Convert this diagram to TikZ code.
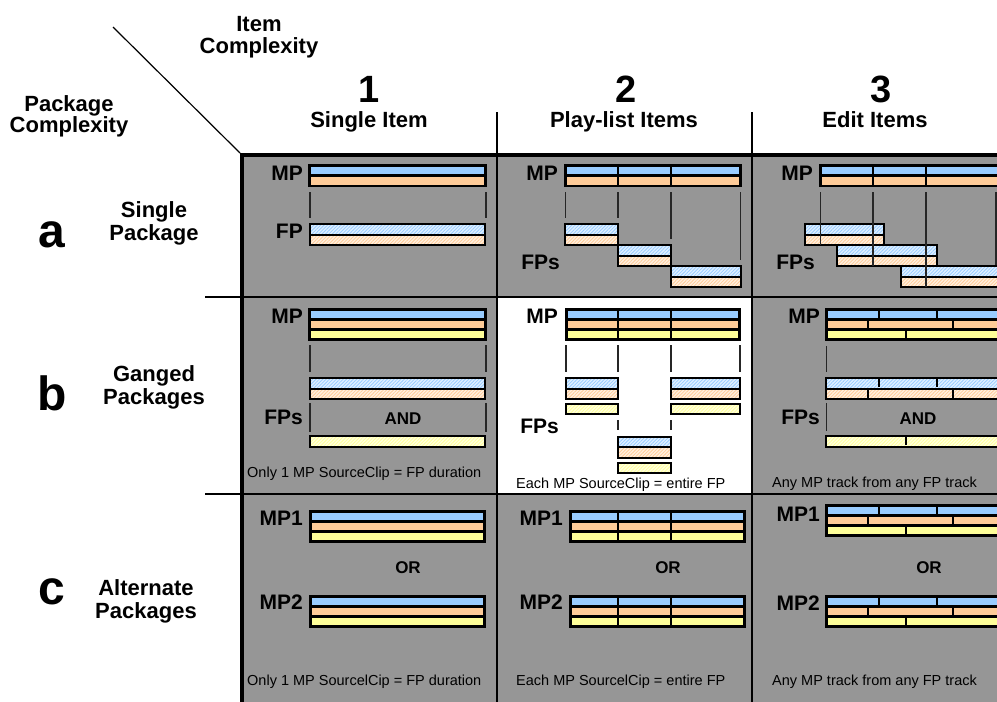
\documentclass[tikz,border=0pt]{standalone}
\usepackage{fontspec}
\setmainfont{Liberation Sans}
\usetikzlibrary{patterns.meta}
\definecolor{mpblue}{RGB}{153,204,255}
\definecolor{mporange}{RGB}{255,204,153}
\definecolor{mpyellow}{RGB}{255,255,153}
\definecolor{cellgray}{RGB}{150,150,150}
\tikzset{
  mpline/.style={line width=2.6pt, draw=black, line join=miter},
  fpline/.style={line width=2pt, draw=black},
  segline/.style={line width=1.4pt, draw=black},
  conn/.style={line width=1.3pt, draw=black!85},
  gridline/.style={line width=1.5pt, draw=black},
  border/.style={line width=4pt, draw=black},
  hdr/.style={font=\fontsize{22}{24}\selectfont\bfseries, inner sep=0pt, anchor=base},
  bigdigit/.style={font=\fontsize{38}{40}\selectfont\bfseries, inner sep=0pt, anchor=base},
  rowletter/.style={font=\fontsize{48}{50}\selectfont\bfseries, inner sep=0pt, anchor=base},
  lab/.style={font=\fontsize{21}{22}\selectfont\bfseries, inner sep=0pt, anchor=base east},
  andor/.style={font=\fontsize{17}{18}\selectfont\bfseries, inner sep=0pt, anchor=base},
  note/.style={font=\fontsize{14.5}{16}\selectfont, inner sep=0pt, anchor=base west},
}
\newcommand{\mptracks}[5]{%
  \foreach \cc [count=\ii from 0] in {#5}{%
    \filldraw[mpline, fill=\cc] (#1,{#3+\ii*#4}) rectangle (#2,{#3+(\ii+1)*#4});}}
\newcommand{\fptracks}[5]{%
  \foreach \cc [count=\ii from 0] in {#5}{%
    \fill[\cc!30] (#1,{#3+\ii*#4}) rectangle (#2,{#3+(\ii+1)*#4});
    \fill[pattern={Lines[angle=45,distance=2.4pt,line width=0.8pt]}, pattern color=\cc] (#1,{#3+\ii*#4}) rectangle (#2,{#3+(\ii+1)*#4});
    \draw[fpline] (#1,{#3+\ii*#4}) rectangle (#2,{#3+(\ii+1)*#4});}}
\newcommand{\segs}[3]{%
  \foreach \tt/\xx in {#3}{%
    \draw[segline] (\xx,{#1+\tt*#2+1.2}) -- (\xx,{#1+(\tt+1)*#2-1.2});}}
\begin{document}
\begin{tikzpicture}[x=1pt,y=-1pt]
\useasboundingbox (0,0) rectangle (997,702);
\clip (0,0) rectangle (997,702);
% backgrounds
\fill[cellgray] (242,155) rectangle (1000,705);
\fill[white] (497,297) rectangle (752,494);
% grid
\draw[gridline] (497,112) -- (497,705);
\draw[gridline] (752,112) -- (752,705);
\draw[gridline] (205,297) -- (1000,297);
\draw[gridline] (205,494) -- (1000,494);
\draw[border] (240,155) -- (1000,155);
\draw[border] (242,153) -- (242,705);
\draw[line width=1.2pt] (113,27) -- (240,153);
% corner headings
\node[hdr] (ic1) at (259,31.5) {Item};
\node[hdr] (ic2) at (259,53) {Complexity};
\node[hdr] (pc1) at (69,111) {Package};
\node[hdr] (pc2) at (69,132) {Complexity};
% column headings
\node[bigdigit] (n1) at (369,102) {1};
\node[hdr] (t1) at (369,127) {Single Item};
\node[bigdigit] (n2) at (626,102) {2};
\node[hdr] (t2) at (624,127) {Play-list Items};
\node[bigdigit] (n3) at (881,102) {3};
\node[hdr] (t3) at (875,127) {Edit Items};
% row headings
\node[rowletter] (ra) at (52,247) {a};
\node[hdr] (ra1) at (154,217.5) {Single};
\node[hdr] (ra2) at (154,240) {Package};
\node[rowletter] (rb) at (52,410) {b};
\node[hdr] (rb1) at (154,381) {Ganged};
\node[hdr] (rb2) at (154,404) {Packages};
\node[rowletter] (rc) at (52,604) {c};
\node[hdr] (rc1) at (146,595.5) {Alternate};
\node[hdr] (rc2) at (146,618) {Packages};

% ---------- cell a1
\mptracks{309.5}{485.5}{165.3}{10.25}{mpblue,mporange}
\fptracks{310}{485}{224}{10.5}{mpblue,mporange}
\draw[conn] (310,192) -- (310,218);
\draw[conn] (486,192) -- (486,218);
\node[lab] (a1mp) at (303,180) {MP};
\node[lab] (a1fp) at (303,238) {FP};
% ---------- cell a2
\mptracks{565.3}{740.7}{165.3}{10.25}{mpblue,mporange}
\segs{165.3}{10.25}{0/618,1/618,0/671,1/671}
\fptracks{565}{618}{224}{10.5}{mpblue,mporange}
\fptracks{618}{671}{245}{10.5}{mpblue,mporange}
\fptracks{671}{740.5}{266}{10.5}{mpblue,mporange}
\draw[conn] (565.5,192) -- (565.5,218);
\draw[conn] (618,192) -- (618,218);
\draw[conn] (671,192) -- (671,239);
\draw[conn] (740.5,192) -- (740.5,260);
\node[lab] (a2mp) at (558,180) {MP};
\node[lab] (a2fp) at (560,269) {FPs};
% ---------- cell a3
\mptracks{820.3}{1010}{165.3}{10.25}{mpblue,mporange}
\segs{165.3}{10.25}{0/873,1/873,0/926,1/926}
\fptracks{805}{883.5}{224}{10.5}{mpblue,mporange}
\fptracks{837}{936.5}{245}{10.5}{mpblue,mporange}
\fptracks{901}{1010}{266}{10.5}{mpblue,mporange}
\draw[conn] (820.3,192) -- (820.3,245);
\draw[conn] (873,192) -- (873,266);
\draw[conn] (926,192) -- (926,287);
\draw[conn] (996,192) -- (996,265);
\node[lab] (a3mp) at (813,180) {MP};
\node[lab] (a3fp) at (815,269) {FPs};
% ---------- cell b1
\mptracks{309.5}{485.5}{309.3}{10.15}{mpblue,mporange,mpyellow}
\draw[conn] (310,345) -- (310,372);
\draw[conn] (486,345) -- (486,372);
\fptracks{310}{485}{378}{10.5}{mpblue,mporange}
\draw[conn] (310,403) -- (310,432);
\draw[conn] (486,403) -- (486,432);
\fptracks{310}{485}{436}{10.5}{mpyellow}
\node[lab] (b1mp) at (303,323) {MP};
\node[lab] (b1fp) at (303,424) {FPs};
\node[andor] (b1and) at (403,424) {AND};
\node[note] (b1n) at (247,477) {Only 1 MP SourceClip = FP duration};
% ---------- cell b2
\mptracks{566.3}{739.7}{309.3}{10.15}{mpblue,mporange,mpyellow}
\segs{309.3}{10.15}{0/618,1/618,2/618,0/671,1/671,2/671}
\draw[conn] (566,345) -- (566,372);
\draw[conn] (618,345) -- (618,372);
\draw[conn] (671,345) -- (671,372);
\draw[conn] (740,345) -- (740,372);
\fptracks{566}{618}{378}{10.5}{mpblue,mporange}
\fptracks{671}{740}{378}{10.5}{mpblue,mporange}
\fptracks{566}{618}{404.3}{9.5}{mpyellow}
\fptracks{671}{740}{404.3}{9.5}{mpyellow}
\draw[conn] (618,420) -- (618,430);
\draw[conn] (671,420) -- (671,430);
\fptracks{618}{671}{436.7}{10.5}{mpblue,mporange}
\fptracks{618}{671}{462.5}{10}{mpyellow}
\node[lab] (b2mp) at (558,323) {MP};
\node[lab] (b2fp) at (559,433) {FPs};
\node[note] (b2n) at (516,488) {Each MP SourceClip = entire FP};
% ---------- cell b3
\mptracks{826.3}{1010}{309.3}{10.15}{mpblue,mporange,mpyellow}
\segs{309.3}{10.15}{0/879,0/937,1/868,1/953,2/906}
\draw[conn] (826.3,346) -- (826.3,372);
\fptracks{826}{1010}{378}{10.5}{mpblue,mporange}
\segs{378}{10.5}{0/879,0/937,1/868,1/953}
\draw[conn] (826.3,403) -- (826.3,431);
\fptracks{826}{1010}{436}{10.5}{mpyellow}
\segs{436}{10.5}{0/906}
\node[lab] (b3mp) at (820,323) {MP};
\node[lab] (b3fp) at (820,424) {FPs};
\node[andor] (b3and) at (918,424) {AND};
\node[note] (b3n) at (772,487) {Any MP track from any FP track};
% ---------- cell c1
\mptracks{310.3}{484.7}{511.3}{10.15}{mpblue,mporange,mpyellow}
\mptracks{310.3}{484.7}{596.3}{10.15}{mpblue,mporange,mpyellow}
\node[lab] (c1mp1) at (303,525) {MP1};
\node[lab] (c1mp2) at (303,609) {MP2};
\node[andor] (c1or) at (408,573) {OR};
\node[note] (c1n) at (247,685) {Only 1 MP SourcelCip = FP duration};
% ---------- cell c2
\mptracks{570.3}{744.7}{511.3}{10.15}{mpblue,mporange,mpyellow}
\segs{511.3}{10.15}{0/618,1/618,2/618,0/671,1/671,2/671}
\mptracks{570.3}{744.7}{596.3}{10.15}{mpblue,mporange,mpyellow}
\segs{596.3}{10.15}{0/618,1/618,2/618,0/671,1/671,2/671}
\node[lab] (c2mp1) at (563,525) {MP1};
\node[lab] (c2mp2) at (563,609) {MP2};
\node[andor] (c2or) at (668,573) {OR};
\node[note] (c2n) at (516,685) {Each MP SourcelCip = entire FP};
% ---------- cell c3
\mptracks{826.3}{1010}{505.3}{10.15}{mpblue,mporange,mpyellow}
\segs{505.3}{10.15}{0/879,0/937,1/868,1/953,2/906}
\mptracks{826.3}{1010}{596.3}{10.15}{mpblue,mporange,mpyellow}
\segs{596.3}{10.15}{0/879,0/937,1/868,1/953,2/906}
\node[lab] (c3mp1) at (820,521) {MP1};
\node[lab] (c3mp2) at (820,610) {MP2};
\node[andor] (c3or) at (929,573) {OR};
\node[note] (c3n) at (772,685) {Any MP track from any FP track};
\end{tikzpicture}
\end{document}
